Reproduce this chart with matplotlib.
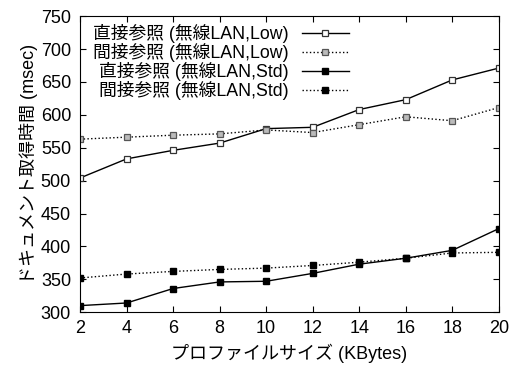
import matplotlib
matplotlib.use("Agg")
import matplotlib.pyplot as plt

plt.rcParams['font.family'] = ['Liberation Sans', 'Noto Sans CJK JP', 'DejaVu Sans']

size_kb = [2, 4, 6, 8, 10, 12, 14, 16, 18, 20]
direct_low = [504, 533, 546, 557, 579, 581, 608, 623, 653, 671]
indirect_low = [563, 566, 569, 571, 577, 573, 585, 597, 591, 611]
direct_std = [310, 314, 336, 346, 347, 359, 373, 382, 394, 427]
indirect_std = [352, 358, 362, 365, 367, 371, 376, 382, 390, 391]

labels = ['直接参照 (無線LAN,Low)', '間接参照 (無線LAN,Low)',
          '直接参照 (無線LAN,Std)', '間接参照 (無線LAN,Std)']

fig = plt.figure(figsize=(5.1, 3.66), dpi=100)
ax = fig.add_axes([0.157, 0.147, 0.821, 0.809])

ax.plot(size_kb, direct_low, '-', color='black', lw=1.0, marker='s', ms=3.8,
        mfc='white', mec='#333333', mew=0.9, label=labels[0])
ax.plot(size_kb, indirect_low, ':', color='black', lw=1.0, marker='s', ms=3.8,
        mfc='#bbbbbb', mec='#555555', mew=0.9, label=labels[1])
ax.plot(size_kb, direct_std, '-', color='black', lw=1.0, marker='s', ms=3.8,
        mfc='black', mec='black', label=labels[2])
ax.plot(size_kb, indirect_std, ':', color='black', lw=1.0, marker='s', ms=3.8,
        mfc='black', mec='black', label=labels[3])

ax.set_xlim(2, 20)
ax.set_ylim(300, 750)
ax.set_xticks(range(2, 21, 2))
ax.set_yticks(range(300, 751, 50))
ax.tick_params(direction='in', top=True, right=True, labelsize=13, length=4)
ax.tick_params(axis='y', pad=6.5)
ax.tick_params(axis='x', pad=5.5)
ax.set_xlabel('プロファイルサイズ (KBytes)', fontsize=13, labelpad=5)
ax.set_ylabel('ドキュメント取得時間 (msec)', fontsize=13, labelpad=2)

leg = ax.legend(loc='upper left', bbox_to_anchor=(0.0, 1.015), frameon=False,
                markerfirst=False, fontsize=12.8, handlelength=2.6,
                labelspacing=0.0, borderaxespad=0.3, handletextpad=0.8)
for t in leg.get_texts():
    t.set_ha('right')
leg._legend_box.align = 'right'

fig.savefig('out.png', dpi=100)
